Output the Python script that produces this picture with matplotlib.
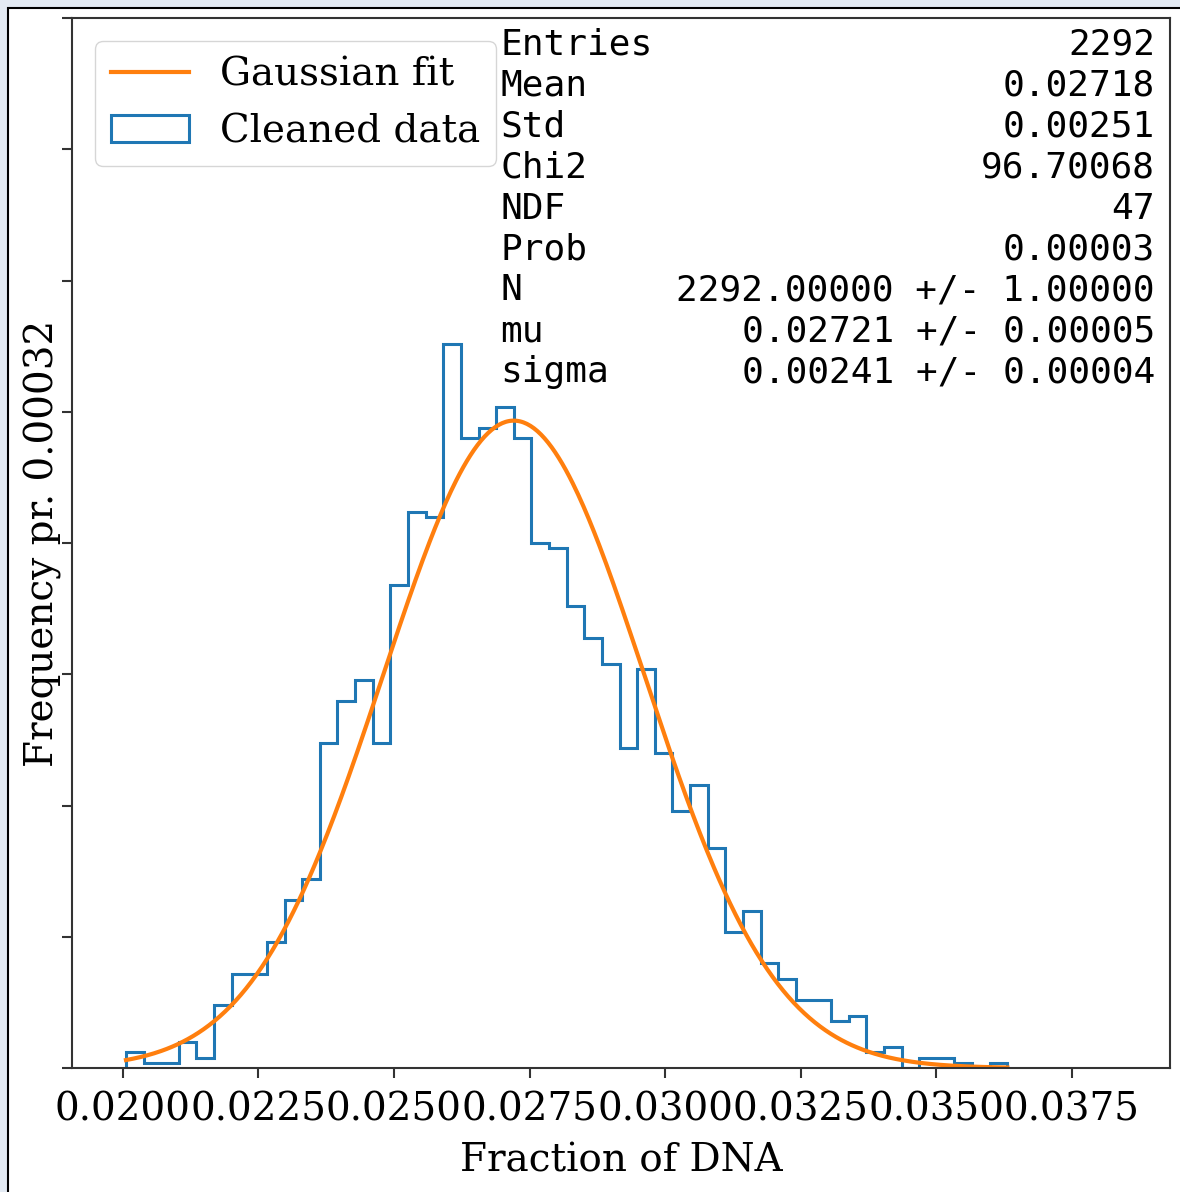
import matplotlib
matplotlib.use('Agg')
import matplotlib.pyplot as plt
from matplotlib.patches import Rectangle
from matplotlib.ticker import FormatStrFormatter
import numpy as np

# histogram (50 bins)
x_min, x_max = 0.02006, 0.03631
counts = [3, 1, 1, 5, 2, 12, 18, 18, 24, 32, 36, 62, 70, 74, 62, 92, 106, 105, 138, 120,
          122, 126, 120, 100, 99, 88, 82, 77, 61, 76, 60, 49, 54, 42, 26, 30, 20, 17, 13, 13,
          9, 10, 3, 4, 0, 2, 2, 1, 0, 1]

# fit results shown in the stats box
fit_N, fit_mu, fit_sigma = 2292.0, 0.02721, 0.00241
stat_names = ['Entries', 'Mean', 'Std', 'Chi2', 'NDF', 'Prob', 'N', 'mu', 'sigma']
stat_values = ['2292', '0.02718', '0.00251', '96.70068', '47', '0.00003',
               '2292.00000 +/- 1.00000', '0.02721 +/- 0.00005', '0.00241 +/- 0.00004']

edges = np.linspace(x_min, x_max, len(counts) + 1)
bin_width = edges[1] - edges[0]
xx = np.linspace(x_min, x_max, 500)
yy = fit_N * bin_width / (fit_sigma * np.sqrt(2 * np.pi)) * np.exp(-0.5 * ((xx - fit_mu) / fit_sigma) ** 2)

plt.rcParams['font.family'] = 'DejaVu Serif'
plt.rcParams['font.size'] = 28

fig = plt.figure(figsize=(11.8, 11.92), dpi=100)
fig.patch.set_facecolor('#e3eaf3')
fig.add_artist(Rectangle((8 / 1180, -0.01), 1.0, 1.01 - 8 / 1192, transform=fig.transFigure,
                         facecolor='white', edgecolor='black', lw=1.5, zorder=-10))

ax = fig.add_axes([72 / 1180, 124 / 1192, 1098 / 1180, 1050 / 1192])
ax.set_facecolor('none')

_, _, hist_patches = ax.hist(edges[:-1], bins=edges, weights=counts, histtype='step',
                             color='#1f77b4', lw=2.2, label='Cleaned data')
fit_line, = ax.plot(xx, yy, color='#ff7f0e', lw=3, label='Gaussian fit')

ax.set_xlim(0.019065, 0.039309)
ax.set_ylim(0, 200)
ax.set_xticks(np.arange(0.0200, 0.03751, 0.0025))
ax.xaxis.set_major_formatter(FormatStrFormatter('%.4f'))
ax.set_yticks(np.arange(0, 201, 25))
ax.set_yticklabels([])
ax.tick_params(length=7, width=1.5, color='#333333')
ax.tick_params(axis='x', pad=10)
for s in ax.spines.values():
    s.set_linewidth(1.5)
    s.set_color('#333333')

ax.set_xlabel('Fraction of DNA', labelpad=10)
ax.set_ylabel('Frequency pr. 0.00032', labelpad=-3)

ax.legend(handles=[fit_line, hist_patches[0]], loc='upper left', fontsize=28,
          handlelength=2.0, borderaxespad=0.6)

for i, (name, val) in enumerate(zip(stat_names, stat_values)):
    y = 0.9743 - i * 0.03895
    ax.text(0.3898, y, name, transform=ax.transAxes, family='DejaVu Sans Mono',
            fontsize=26, va='center', ha='left')
    ax.text(0.9863, y, val, transform=ax.transAxes, family='DejaVu Sans Mono',
            fontsize=26, va='center', ha='right')

fig.savefig('out.png', dpi=100, facecolor=fig.get_facecolor())
